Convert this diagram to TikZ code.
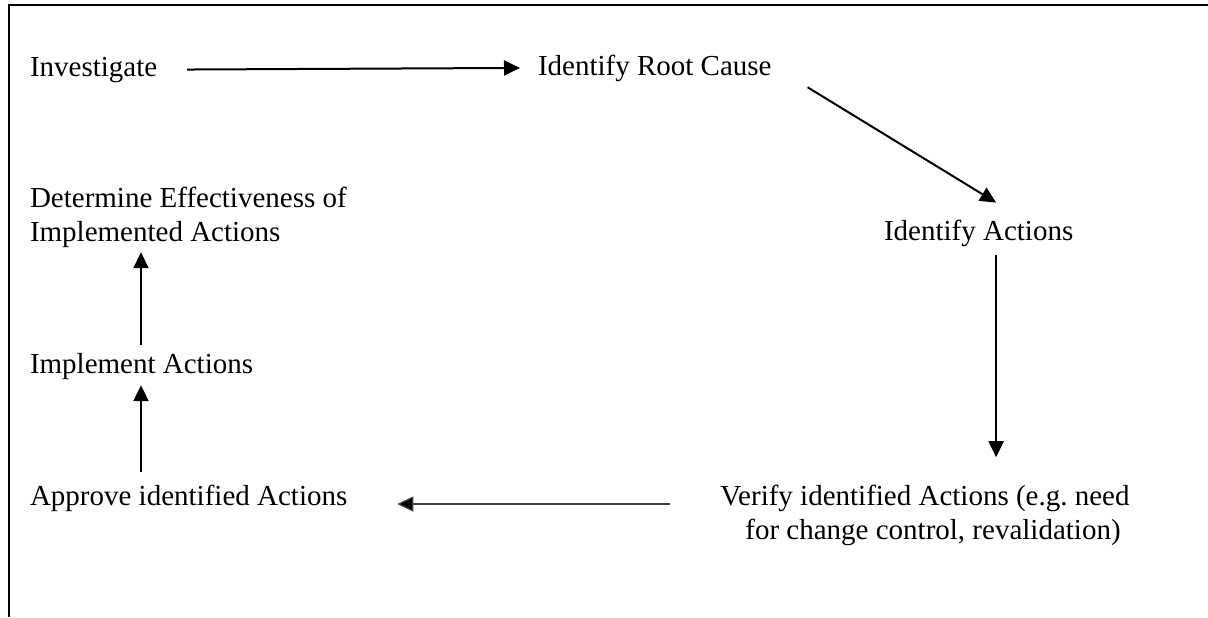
\documentclass[tikz,border=0pt]{standalone}
\usepackage{fontspec}
\setmainfont{Liberation Serif}
\usetikzlibrary{arrows.meta,calc}
\tikzset{
  lbl/.style={inner sep=0pt, outer sep=0pt, font=\fontsize{14.5}{17}\selectfont},
  arr/.style={line width=1pt, -{Triangle[length=8pt,width=7.5pt]}},
  thinarr/.style={line width=0.55pt, draw=black!75, -{Triangle[length=8pt,width=7.5pt,fill=black]}},
  frame/.style={line width=1pt}
}
\begin{document}
\begin{tikzpicture}[x=0.5pt,y=-0.5pt]
\useasboundingbox (0,0) rectangle (1208,617);
\draw[frame] (9,617) -- (9,5) -- (1208,5);

\node[lbl, anchor=base west] (inv) at (30,76) {Investigate};
\node[lbl, anchor=base west] (irc) at (538,75) {Identify Root Cause};
\node[lbl, anchor=base west] (ia) at (884,240) {Identify Actions};
\node[lbl, anchor=base] (ver) at (925,505) {\begin{tabular}[t]{@{}c@{}}Verify identified Actions (e.g.\ need\\ \hspace*{8pt}for change control, revalidation)\end{tabular}};
\node[lbl, anchor=base west] (app) at (30,505) {Approve identified Actions};
\node[lbl, anchor=base west] (imp) at (30,373) {Implement Actions};
\node[lbl, anchor=base west] (det) at (30,207) {\begin{tabular}[t]{@{}l@{}}Determine Effectiveness of\\ Implemented Actions\end{tabular}};

\draw[arr] ($(inv.east)+(30,0)$) -- ($(irc.west)+(-18,0)$);
\draw[arr] ($(irc.south east)+(36,6)$) -- ($(ia.north)+(17.5,-17)$);
\draw[arr] ($(ia.south)+(17.5,9)$) -- ($(ia.south |- ver.north)+(17.5,-24)$);
\draw[thinarr] ($(ver.base west)+(-50,-1)$) -- ($(app.base east)+(50,-1)$);
\draw[arr] ($(app.north west)+(111,-13)$) -- ($(imp.south west)+(111,6)$);
\draw[arr] ($(imp.north west)+(111,-8)$) -- ($(det.south west)+(111,1)$);
\end{tikzpicture}
\end{document}
